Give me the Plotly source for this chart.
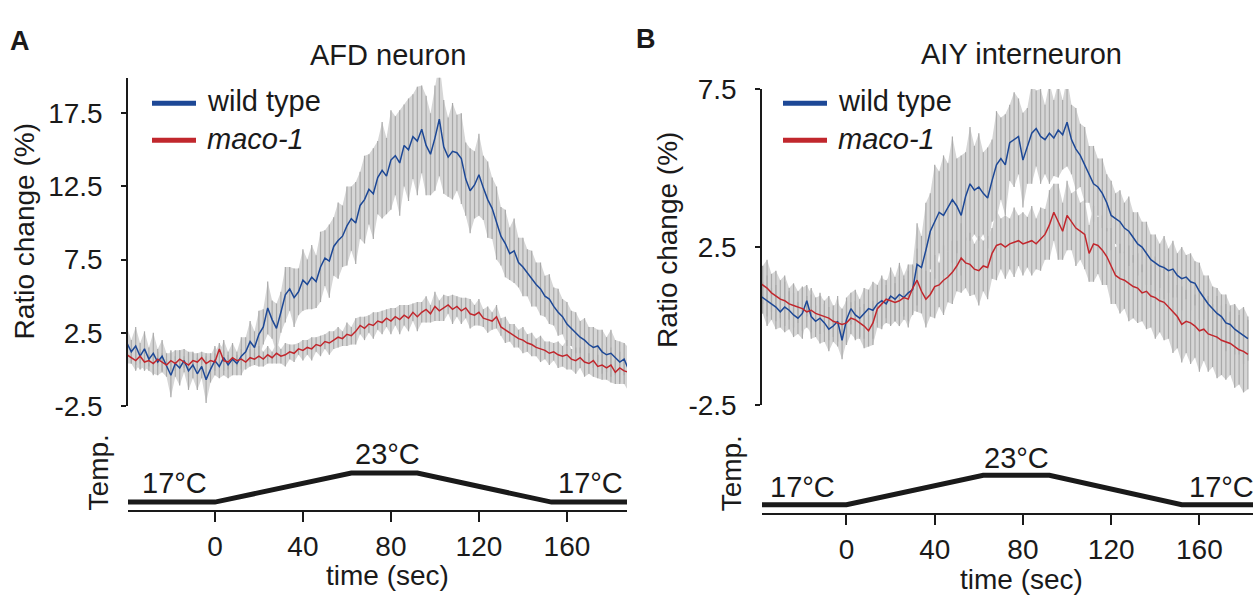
import plotly.graph_objects as go

W, H = 1253, 608
FONT = "Liberation Sans, Arial, sans-serif"
BLUE = "#1d4896"
RED = "#c1272d"
GREY = "#a9a9a9"
BAND = "#d6d6d6"
INK = "#1a1a1a"

# time grid (sec), one sample every 2 s
time_a = list(range(-40, 189, 2))
time_b = list(range(-40, 183, 2))

# AFD neuron, ratio change (%)
wt_a = [
    1.8, 1.2, 1.6, 0.9, 1.4, 0.7, 1.1, 0.5, 0.9, 0.3,
    -0.4, 0.4, 0.1, 0.6, -0.1, 0.3, -0.3, 0.2, -0.7, 0.0,
    0.6, 0.2, 0.8, 0.3, 0.7, 0.4, 0.9, 1.2, 1.9, 1.5,
    2.4, 2.9, 4.2, 3.4, 2.8, 3.9, 5.1, 5.5, 4.9, 5.3,
    6.1, 5.8, 6.3, 6.0, 7.0, 7.6, 7.4, 8.4, 8.8, 9.1,
    9.8, 10.3, 10.0, 11.2, 11.6, 12.3, 12.0, 13.1, 13.6, 13.2,
    14.3, 14.6, 14.1, 15.3, 15.0, 15.9, 15.6, 16.4, 15.3, 14.7,
    15.8, 17.1, 15.2, 14.5, 14.9, 14.8, 14.4, 13.0, 12.2, 12.6,
    13.3, 12.4, 11.6, 11.0, 10.0, 9.1, 8.6, 7.9, 8.1, 7.3,
    7.0, 6.6, 6.2, 5.8, 5.5, 5.0, 4.8, 4.3, 3.9, 3.6,
    3.1, 2.8, 2.5, 2.2, 2.0, 1.7, 1.5, 1.6, 1.2, 1.0,
    1.1, 0.8, 0.5, 0.7, 0.0,
]
err_wt_a = [
    1.1, 0.8, 1.3, 0.9, 1.2, 0.8, 1.4, 0.9, 1.1, 0.8,
    1.5, 0.9, 1.2, 0.8, 1.3, 0.9, 1.1, 0.8, 1.6, 0.9,
    1.0, 0.8, 1.2, 0.9, 1.1, 0.8, 1.3, 1.0, 1.4, 1.1,
    1.6, 1.2, 1.8, 1.3, 1.7, 1.4, 1.9, 1.5, 2.0, 1.6,
    2.1, 1.7, 2.2, 1.8, 2.4, 1.9, 2.5, 2.0, 2.6, 2.1,
    2.7, 2.2, 2.8, 2.3, 3.0, 2.4, 3.1, 2.5, 3.3, 2.6,
    3.4, 2.7, 3.6, 2.8, 3.5, 2.9, 3.7, 3.0, 3.4, 2.8,
    3.6, 3.9, 3.2, 2.7, 3.3, 2.6, 3.1, 2.5, 2.9, 2.3,
    2.8, 2.2, 2.6, 2.1, 2.5, 2.0, 2.3, 1.8, 2.2, 1.7,
    2.0, 1.6, 1.9, 1.5, 1.8, 1.4, 1.7, 1.3, 1.6, 1.2,
    1.5, 1.2, 1.4, 1.1, 1.5, 1.2, 1.4, 1.1, 1.5, 1.2,
    1.6, 1.2, 1.4, 1.1, 1.5,
]
maco_a = [
    1.0, 0.8, 0.6, 0.9, 0.5, 0.6, 0.4, 0.7, 0.5, 0.3,
    0.6, 0.4, 0.7, 0.5, 0.3, 0.6, 0.5, 0.8, 0.4, 0.6,
    0.5, 1.4, 0.6, 0.5, 0.8, 0.6, 0.7, 0.5, 0.8, 0.7,
    0.9, 0.7, 1.0, 0.8, 1.1, 0.9, 1.0, 1.2, 1.1, 1.4,
    1.3, 1.5, 1.4, 1.7, 1.6, 1.9, 1.8, 2.0, 2.2, 2.1,
    2.4, 2.3, 2.6, 3.0, 2.8, 3.1, 3.0, 3.3, 3.2, 3.5,
    3.3, 3.6, 3.4, 3.7, 3.5, 3.9, 3.6, 3.9, 4.1, 3.8,
    4.3, 4.0, 4.2, 4.4, 4.1, 4.3, 4.0, 4.2, 3.8, 3.7,
    3.9, 3.5, 3.4, 3.3, 3.6, 2.9, 2.7, 2.5, 2.3, 2.1,
    2.0, 1.8, 1.7, 1.5, 1.4, 1.3, 1.1, 1.2, 1.0, 0.9,
    1.0, 0.7, 0.6, 0.8, 0.5, 0.4, 0.6, 0.2, 0.3, 0.1,
    0.3, -0.2, 0.1, -0.1, -0.2,
]
err_maco_a = [
    0.6, 0.4, 0.7, 0.5, 0.6, 0.4, 0.8, 0.5, 0.6, 0.4,
    0.7, 0.5, 0.6, 0.4, 0.8, 0.5, 0.6, 0.4, 0.7, 0.5,
    0.6, 0.4, 0.7, 0.5, 0.6, 0.4, 0.7, 0.5, 0.6, 0.4,
    0.7, 0.5, 0.6, 0.4, 0.7, 0.5, 0.8, 0.5, 0.6, 0.4,
    0.7, 0.5, 0.8, 0.5, 0.7, 0.5, 0.8, 0.6, 0.7, 0.5,
    0.8, 0.6, 0.9, 0.6, 0.8, 0.6, 0.9, 0.6, 0.8, 0.6,
    0.9, 0.6, 1.0, 0.7, 0.9, 0.6, 1.0, 0.7, 0.9, 0.6,
    1.0, 0.7, 0.9, 0.6, 1.0, 0.7, 0.9, 0.7, 1.0, 0.7,
    0.9, 0.6, 0.9, 0.6, 0.8, 0.6, 0.9, 0.6, 0.8, 0.6,
    0.9, 0.6, 0.8, 0.6, 0.9, 0.6, 0.8, 0.6, 0.9, 0.7,
    1.0, 0.7, 0.9, 0.7, 1.0, 0.7, 1.1, 0.8, 1.0, 0.8,
    1.2, 0.8, 1.1, 0.9, 1.3,
]

# AIY interneuron, ratio change (%)
wt_b = [
    1.0, 0.9, 0.8, 0.7, 0.6, 0.45, 0.6, 0.5, 0.35, 0.25,
    0.4, 0.8, 0.3, 0.15, 0.25, 0.1, -0.1, 0.0, 0.15, -0.45,
    0.2, 0.55, 0.35, 0.25, 0.4, 0.55, 0.5, 0.7, 0.8, 0.7,
    0.95, 0.85, 1.0, 0.9, 1.05, 1.15, 1.95, 1.85, 2.4, 3.0,
    3.3, 3.6, 3.5, 3.75, 4.0, 3.8, 3.5, 4.1, 4.5, 4.3,
    4.4, 4.2, 4.05, 4.6, 5.1, 5.3, 5.1, 5.8, 5.9, 6.0,
    5.25, 5.7, 6.1, 6.25, 6.0, 5.9, 6.1, 5.95, 6.2, 6.05,
    6.45, 5.9, 5.6, 5.4, 5.1, 4.8, 4.5, 4.4, 4.2, 3.9,
    3.5, 3.4, 3.3, 3.1, 3.0, 2.8, 2.6, 2.5, 2.3, 2.1,
    2.0, 1.9, 1.85, 1.75, 1.8, 1.6, 1.5, 1.55, 1.4, 1.35,
    1.1, 0.9, 0.7, 0.55, 0.4, 0.3, 0.1, 0.05, -0.1, -0.2,
    -0.3, -0.4,
]
err_wt_b = [
    0.7, 0.5, 0.8, 0.5, 0.7, 0.5, 0.8, 0.6, 0.7, 0.5,
    0.8, 0.5, 0.7, 0.5, 0.8, 0.6, 0.7, 0.5, 0.8, 0.6,
    0.7, 0.5, 0.8, 0.6, 0.8, 0.6, 0.9, 0.6, 0.8, 0.6,
    0.9, 0.7, 1.0, 0.7, 0.9, 0.8, 1.3, 1.0, 1.5, 1.2,
    1.8, 1.3, 1.9, 1.4, 2.0, 1.5, 1.9, 1.4, 1.8, 1.4,
    1.7, 1.3, 1.6, 1.3, 1.7, 1.3, 1.6, 1.2, 1.5, 1.2,
    1.5, 1.2, 1.6, 1.2, 1.5, 1.1, 1.6, 1.2, 1.5, 1.1,
    1.4, 1.1, 1.3, 1.0, 1.2, 0.9, 1.2, 0.9, 1.1, 0.9,
    1.1, 0.8, 1.0, 0.8, 1.1, 0.8, 1.0, 0.8, 1.0, 0.8,
    0.9, 0.7, 1.0, 0.7, 0.9, 0.7, 1.0, 0.7, 0.9, 0.7,
    0.9, 0.7, 0.9, 0.7, 0.8, 0.7, 0.9, 0.6, 0.8, 0.7,
    0.9, 0.7,
]
maco_b = [
    1.4, 1.3, 1.2, 1.05, 0.95, 0.85, 0.8, 0.7, 0.65, 0.6,
    0.55, 0.45, 0.5, 0.4, 0.35, 0.3, 0.25, 0.15, 0.1, 0.05,
    0.1, 0.25, 0.2, 0.1, 0.0, -0.15, 0.1, 0.55, 0.7, 0.85,
    0.8, 0.75, 0.8, 0.9, 0.85, 1.2, 1.45, 1.1, 0.85, 1.0,
    1.25, 1.3, 1.45, 1.55, 1.7, 1.9, 2.15, 2.0, 1.95, 1.8,
    1.75, 1.9, 1.85, 2.3, 2.55, 2.6, 2.5, 2.6, 2.65, 2.7,
    2.6, 2.65, 2.7, 2.6, 2.75, 2.9, 3.2, 3.6, 3.3, 3.0,
    3.5, 3.3, 3.1, 3.0, 2.9, 2.3, 2.6, 2.55, 2.4, 2.2,
    1.9, 1.6, 1.5, 1.45, 1.35, 1.25, 1.2, 1.05, 1.1, 0.95,
    0.9, 0.8, 0.75, 0.6, 0.45, 0.3, 0.05, 0.15, 0.1, 0.0,
    -0.15, -0.1, -0.25, -0.3, -0.35, -0.45, -0.5, -0.55, -0.65, -0.75,
    -0.8, -0.9,
]
err_maco_b = [
    0.8, 0.6, 0.9, 0.6, 0.8, 0.6, 0.8, 0.5, 0.7, 0.5,
    0.7, 0.5, 0.7, 0.5, 0.6, 0.5, 0.7, 0.5, 0.6, 0.5,
    0.7, 0.5, 0.6, 0.5, 0.7, 0.5, 0.7, 0.6, 0.8, 0.6,
    0.8, 0.6, 0.8, 0.6, 0.9, 0.7, 1.0, 0.7, 0.9, 0.7,
    1.0, 0.7, 1.1, 0.8, 1.0, 0.8, 1.1, 0.8, 1.0, 0.8,
    1.1, 0.8, 1.0, 0.8, 1.1, 0.8, 1.0, 0.8, 1.1, 0.8,
    1.0, 0.8, 1.1, 0.8, 1.0, 0.8, 1.1, 0.9, 1.2, 0.9,
    1.1, 0.9, 1.2, 0.9, 1.1, 0.9, 1.2, 0.9, 1.1, 0.9,
    1.2, 0.9, 1.1, 0.9, 1.2, 1.0, 1.1, 0.9, 1.2, 1.0,
    1.3, 1.0, 1.2, 1.0, 1.3, 1.0, 1.2, 1.0, 1.3, 1.0,
    1.3, 1.0, 1.2, 1.0, 1.3, 1.1, 1.2, 1.0, 1.3, 1.1,
    1.3, 1.1,
]

# temperature protocol (deg C)
temp_time_a = [-40, 0, 62, 92, 153, 188]
temp_time_b = [-40, 0, 62, 92, 152, 186]
temp_c = [17, 17, 23, 23, 17, 17]

ratio_ticks_a = [-2.5, 2.5, 7.5, 12.5, 17.5]
ratio_ticks_b = [-2.5, 2.5, 7.5]
time_ticks = [0, 40, 80, 120, 160]

assert len(wt_a) == len(err_wt_a) == len(maco_a) == len(err_maco_a) == len(time_a)
assert len(wt_b) == len(err_wt_b) == len(maco_b) == len(err_maco_b) == len(time_b)


def px(x):
    return x / W


def py(y):
    return 1 - y / H


fig = go.Figure()


def add_panel(t, wt, err_wt, maco, err_maco, tt, xa, ya, xt, yt):
    # sem band: light fill plus darker vertical bars
    for vals, err in ((wt, err_wt), (maco, err_maco)):
        hi = [v + e for v, e in zip(vals, err)]
        lo = [v - e for v, e in zip(vals, err)]
        fig.add_trace(go.Scatter(x=t, y=hi, mode="lines", xaxis=xa, yaxis=ya,
                                 line=dict(width=0, color=BAND), showlegend=False,
                                 hoverinfo="skip"))
        fig.add_trace(go.Scatter(x=t, y=lo, mode="lines", xaxis=xa, yaxis=ya,
                                 line=dict(width=0, color=BAND), fill="tonexty",
                                 fillcolor=BAND, showlegend=False, hoverinfo="skip"))
    for vals, err in ((wt, err_wt), (maco, err_maco)):
        fig.add_trace(go.Scatter(
            x=t, y=vals, mode="markers", xaxis=xa, yaxis=ya,
            marker=dict(size=1, opacity=0), showlegend=False, hoverinfo="skip",
            error_y=dict(type="data", array=err, visible=True, color=GREY,
                         thickness=1.2, width=0),
        ))
    fig.add_trace(go.Scatter(x=t, y=wt, mode="lines", xaxis=xa, yaxis=ya,
                             line=dict(color=BLUE, width=1.5), showlegend=False))
    fig.add_trace(go.Scatter(x=t, y=maco, mode="lines", xaxis=xa, yaxis=ya,
                             line=dict(color=RED, width=1.5), showlegend=False))
    fig.add_trace(go.Scatter(x=tt, y=temp_c, mode="lines", xaxis=xt, yaxis=yt,
                             line=dict(color=INK, width=5), showlegend=False))


add_panel(time_a, wt_a, err_wt_a, maco_a, err_maco_a, temp_time_a, "x", "y", "x2", "y2")
add_panel(time_b, wt_b, err_wt_b, maco_b, err_maco_b, temp_time_b, "x3", "y3", "x4", "y4")

tick_font = dict(family=FONT, size=28, color=INK)
yax = dict(showline=True, linecolor=INK, linewidth=1.5, ticks="outside",
           ticklen=5, tickwidth=1.5, tickcolor=INK, showgrid=False,
           zeroline=False, tickfont=tick_font, ticklabelstandoff=13)
tax = dict(showline=True, linecolor=INK, linewidth=2, ticks="outside",
           ticklen=10, tickwidth=1.5, tickcolor=INK, showgrid=False,
           zeroline=False, tickfont=tick_font, tickvals=time_ticks,
           ticklabelstandoff=0)

fig.update_layout(
    width=W, height=H, margin=dict(l=0, r=0, t=0, b=0),
    plot_bgcolor="white", paper_bgcolor="white",
    font=dict(family=FONT, size=28, color=INK),
    xaxis=dict(domain=[px(128), px(627)], range=[-39.5, 187.3], visible=False, anchor="y"),
    yaxis=dict(domain=[py(412), py(66)], range=[-2.5, 19.93], anchor="x",
               tickvals=ratio_ticks_a, ticktext=[str(v) for v in ratio_ticks_a], **yax),
    xaxis2=dict(domain=[px(128), px(627)], range=[-39.5, 187.3], anchor="y2", **tax),
    yaxis2=dict(domain=[py(521.7), py(476)], range=[15.35, 24.31], visible=False, anchor="x2"),
    xaxis3=dict(domain=[px(762), 1.0], range=[-38.3, 184.3], visible=False, anchor="y3"),
    yaxis3=dict(domain=[py(411), py(78)], range=[-2.5, 7.5], anchor="x3",
                tickvals=ratio_ticks_b, ticktext=[str(v) for v in ratio_ticks_b], **yax),
    xaxis4=dict(domain=[px(762), 1.0], range=[-38.3, 184.3], anchor="y4", **tax),
    yaxis4=dict(domain=[py(525), py(478)], range=[15.26, 24.35], visible=False, anchor="x4"),
)

ann = []
shapes = []


def text(x, y, s, size=29, angle=0, xanchor="center", bold=False):
    if bold:
        s = "<b>" + s + "</b>"
    ann.append(dict(x=px(x), y=py(y), xref="paper", yref="paper", text=s,
                    showarrow=False, textangle=angle, xanchor=xanchor,
                    yanchor="middle", font=dict(family=FONT, size=size, color=INK)))


# panel labels and titles
text(20, 27, "A", size=27, bold=True)
text(646, 25, "B", size=27, bold=True)
text(388, 42, "AFD neuron")
text(1021, 41, "AIY interneuron")

# axis titles
text(24, 228, "Ratio change (%)", size=28, angle=-90)
text(668, 237, "Ratio change (%)", size=28, angle=-90)
text(98, 482, "Temp.", size=28, angle=-90)
text(731, 483, "Temp.", size=28, angle=-90)
text(388, 591, "time (sec)", size=28)
text(1021, 595, "time (sec)", size=28)

# temperature labels
text(174, 493, "17°C")
text(387, 463, "23°C")
text(590, 493, "17°C")
text(802, 497, "17°C")
text(1016, 467, "23°C")
text(1221, 497, "17°C")

# legends
for x0, yb, yr in ((152, 93, 132), (783, 93, 132)):
    shapes.append(dict(type="line", xref="paper", yref="paper", x0=px(x0), x1=px(x0 + 44),
                       y0=py(yb), y1=py(yb), line=dict(color=BLUE, width=5)))
    shapes.append(dict(type="line", xref="paper", yref="paper", x0=px(x0), x1=px(x0 + 44),
                       y0=py(yr), y1=py(yr), line=dict(color=RED, width=5)))
    text(x0 + 53, yb - 2, "wild type", xanchor="left")
    text(x0 + 53, yr - 1, "<i>maco-1</i>", xanchor="left")

fig.update_layout(annotations=ann, shapes=shapes)

# page has no body margin so the figure sits at the window's top-left corner
fig.write_html(
    "out.html",
    config={"displayModeBar": False},
    post_script="document.body.style.margin='0';document.body.style.overflow='hidden';",
)
